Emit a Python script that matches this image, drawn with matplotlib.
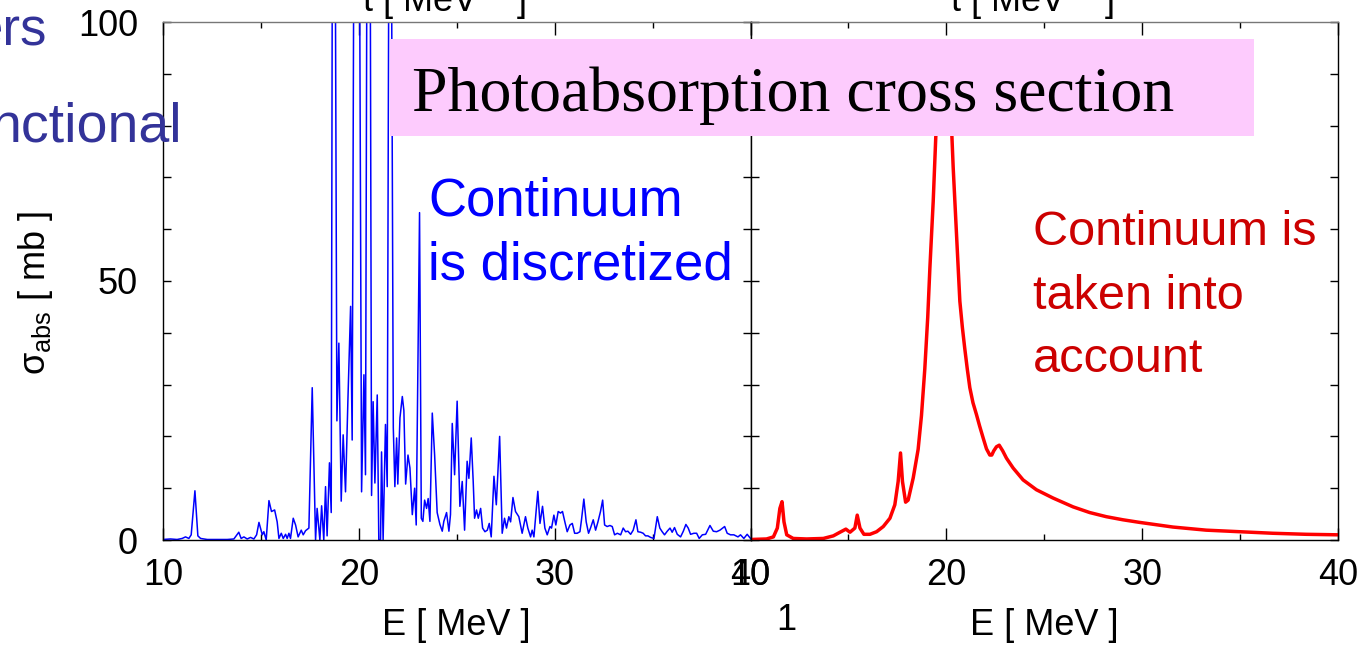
import numpy as np
import matplotlib
matplotlib.use("Agg")
import matplotlib.pyplot as plt
from matplotlib.patches import Rectangle
from matplotlib.ticker import MultipleLocator

plt.rcParams['font.family'] = ['Liberation Sans', 'DejaVu Sans']
plt.rcParams['mathtext.fontset'] = 'custom'
plt.rcParams['mathtext.rm'] = 'Liberation Sans'
plt.rcParams['mathtext.it'] = 'Liberation Sans:italic'

# --- discretized continuum (left panel) ---
E_disc = [10.00, 10.38, 10.72, 10.98, 11.15, 11.32, 11.44, 11.63, 11.78, 11.92,
          12.26, 12.77, 13.28, 13.62, 13.87, 13.99, 14.13, 14.30, 14.47, 14.64,
          14.78, 14.90, 15.07, 15.15, 15.27, 15.41, 15.54, 15.70, 15.83, 15.92,
          16.04, 16.14, 16.26, 16.34, 16.43, 16.51, 16.65, 16.77, 16.90, 17.06,
          17.16, 17.28, 17.45, 17.62, 17.79, 17.87, 18.01, 18.10, 18.21, 18.30,
          18.38, 18.50, 18.59, 18.70, 18.88, 18.98, 19.10, 19.20, 19.32, 19.44,
          19.58, 19.66, 19.88, 20.14, 20.26, 20.34, 20.50, 20.65, 20.73, 20.82,
          20.94, 21.02, 21.11, 21.16, 21.24, 21.36, 21.45, 21.59, 21.76, 21.84,
          21.93, 21.99, 22.10, 22.22, 22.30, 22.39, 22.51, 22.61, 22.73, 22.85,
          22.93, 23.10, 23.19, 23.27, 23.36, 23.46, 23.54, 23.63, 23.75, 23.87,
          24.00, 24.14, 24.26, 24.34, 24.48, 24.60, 24.68, 24.77, 24.89, 25.02,
          25.16, 25.28, 25.40, 25.53, 25.62, 25.74, 25.84, 25.91, 26.01, 26.10,
          26.22, 26.32, 26.44, 26.56, 26.66, 26.76, 26.90, 27.02, 27.19, 27.32,
          27.44, 27.54, 27.66, 27.75, 27.87, 28.00, 28.17, 28.34, 28.51, 28.63,
          28.77, 28.85, 28.94, 29.14, 29.25, 29.38, 29.50, 29.62, 29.76, 29.84,
          29.96, 30.06, 30.18, 30.30, 30.40, 30.52, 30.64, 30.78, 30.90, 31.02,
          31.15, 31.29, 31.37, 31.49, 31.61, 31.73, 31.83, 31.97, 32.09, 32.21,
          32.34, 32.45, 32.55, 32.68, 32.82, 32.94, 33.06, 33.20, 33.37, 33.50,
          33.62, 33.74, 33.88, 34.01, 34.15, 34.25, 34.39, 34.52, 34.64, 34.76,
          34.90, 35.07, 35.24, 35.37, 35.49, 35.61, 35.75, 35.89, 36.00, 36.12,
          36.26, 36.43, 36.57, 36.70, 36.82, 36.94, 37.11, 37.25, 37.38, 37.54,
          37.71, 37.93, 38.10, 38.27, 38.44, 38.68, 38.81, 38.98, 39.15, 39.36,
          39.49, 39.66, 39.83, 40.00]
sig_disc = [0.1, 0.2, 0.1, 0.3, 0.6, 0.3, 1.0, 9.5, 0.8, 0.3,
            0.1, 0.1, 0.1, 0.2, 1.5, 0.3, 0.6, 0.2, 0.5, 0.2,
            1.0, 3.4, 1.0, 1.6, 0.0, 7.6, 5.5, 5.8, 3.5, 0.3,
            1.3, 0.3, 1.1, 0.3, 1.3, 0.3, 4.2, 2.9, 0.6, 1.9,
            1.0, 1.8, 2.3, 29.4, 0.0, 6.1, 0.0, 6.6, 0.0, 10.3,
            0.8, 14.9, 5.3, 220.0, 23.0, 38.0, 7.5, 20.3, 9.3, 26.7,
            45.1, 19.3, 270.0, 9.3, 31.9, 12.6, 240.0, 8.6, 26.7, 11.0,
            28.0, 0.0, 0.0, 17.0, 0.0, 22.3, 10.3, 190.0, 21.7, 10.3,
            19.7, 10.8, 23.6, 27.7, 25.0, 10.8, 16.4, 13.9, 4.9, 10.0,
            2.9, 63.2, 4.2, 3.6, 7.7, 6.1, 8.0, 3.6, 24.5, 16.4,
            5.3, 3.0, 1.7, 3.6, 5.3, 1.7, 4.9, 22.5, 12.6, 26.8,
            6.5, 11.3, 1.9, 15.2, 11.9, 19.7, 11.3, 4.2, 5.8, 4.2,
            6.1, 2.3, 1.6, 1.9, 3.2, 0.6, 12.3, 6.8, 20.0, 1.3,
            4.2, 2.3, 4.5, 3.5, 8.2, 5.5, 4.5, 1.3, 4.5, 2.3,
            0.6, 1.9, 0.6, 9.4, 3.2, 6.5, 2.3, 1.0, 2.6, 2.3,
            4.8, 2.9, 5.5, 5.2, 5.5, 3.5, 1.6, 2.9, 3.2, 1.3,
            1.3, 1.6, 3.9, 7.9, 3.5, 1.3, 2.3, 3.9, 1.9, 3.5,
            5.5, 7.7, 2.9, 2.6, 2.8, 2.6, 1.0, 1.3, 1.0, 2.3,
            1.6, 1.7, 1.1, 1.9, 3.9, 1.6, 1.5, 1.3, 0.8, 0.8,
            0.5, 0.3, 4.5, 2.3, 1.6, 1.0, 1.7, 2.3, 1.5, 2.4,
            1.1, 0.6, 1.7, 3.0, 2.3, 1.1, 1.3, 1.3, 0.3, 1.0,
            1.1, 2.8, 1.7, 1.6, 1.9, 2.6, 1.3, 1.0, 1.0, 0.6,
            1.0, 0.3, 1.1, 0.3]

# --- continuum taken into account (right panel) ---
E_cont = [10.00, 10.82, 11.17, 11.37, 11.50, 11.61, 11.71, 11.85, 12.18, 12.86,
          13.72, 14.23, 14.57, 14.87, 15.08, 15.33, 15.45, 15.59, 15.79, 16.10,
          16.44, 16.78, 17.12, 17.37, 17.54, 17.66, 17.76, 17.92, 18.05, 18.31,
          18.56, 18.73, 18.90, 19.05, 19.16, 19.33, 19.46, 19.58, 19.75, 19.90,
          20.05, 20.21, 20.35, 20.52, 20.69, 20.82, 20.94, 21.07, 21.20, 21.36,
          21.54, 21.70, 21.88, 22.05, 22.22, 22.32, 22.42, 22.56, 22.70, 22.88,
          23.07, 23.41, 23.92, 24.60, 25.45, 26.47, 27.32, 28.17, 29.02, 29.87,
          31.57, 33.27, 34.97, 36.67, 38.38, 40.00]
sig_cont = [0.1, 0.2, 0.6, 2.3, 6.1, 7.4, 3.5, 1.0, 0.3, 0.2,
            0.3, 0.8, 1.5, 2.1, 1.5, 2.3, 4.8, 2.3, 1.1, 1.1,
            1.6, 2.6, 4.2, 6.8, 11.3, 16.8, 11.3, 7.3, 7.7, 12.0,
            17.5, 24.0, 33.0, 43.0, 52.5, 65.4, 77.7, 84.8, 92.0, 95.0,
            92.0, 84.8, 71.9, 59.0, 46.1, 41.0, 37.0, 33.0, 29.4, 26.5,
            24.2, 22.0, 19.7, 17.6, 16.4, 16.4, 17.2, 18.0, 18.3, 17.2,
            15.8, 13.9, 11.6, 9.7, 8.1, 6.4, 5.3, 4.5, 3.9, 3.4,
            2.5, 1.9, 1.6, 1.3, 1.1, 1.0]

x_ticks = [10, 20, 30, 40]
y_ticks = [0, 50, 100]

W, H = 1372, 651
fig = plt.figure(figsize=(W / 100, H / 100), dpi=100)


def px(x, y):
    # pixel position -> figure fraction
    return x / W, 1 - y / H


ax_l = fig.add_axes([163 / W, 111 / H, 587.5 / W, 518 / H])
ax_r = fig.add_axes([750.5 / W, 111 / H, 587.5 / W, 518 / H])

ax_l.plot(E_disc, sig_disc, color='#0000ff', lw=1.1)
ax_r.plot(E_cont, sig_cont, color='#ff0000', lw=2.5)

for ax in (ax_l, ax_r):
    ax.set_xlim(10, 40)
    ax.set_ylim(0, 100)
    ax.set_xticks(x_ticks)
    ax.xaxis.set_minor_locator(MultipleLocator(5))
    ax.set_yticks(y_ticks)
    ax.yaxis.set_minor_locator(MultipleLocator(10))
    ax.tick_params(which='both', direction='in', top=True, right=True,
                   labelsize=26, width=1.0)
    ax.tick_params(axis='x', which='major', length=9, pad=13)
    ax.tick_params(axis='x', which='minor', length=4.5)
    ax.tick_params(axis='y', which='both', length=5.5, pad=18)
    for s in ax.spines.values():
        s.set_linewidth(1.0)
    ax.spines['top'].set_color('#777777')
    ax.set_xlabel('E [ MeV ]', fontsize=26)
    ax.xaxis.set_label_coords(0.5, -0.131)

ax_r.tick_params(axis='y', labelleft=False)
ax_l.set_ylabel(r'$\mathrm{\sigma_{abs}}$ [ mb ]', fontsize=26)
ax_l.yaxis.set_label_coords(-0.183, 0.477)

# headings cut off at the top edge
for cx in (444, 1032):
    fig.text(*px(cx, 12), 't [ MeV$^{-1}$ ]', fontsize=26, ha='center',
             va='baseline')

# side notes running off the left edge
fig.text(*px(47, 45), 'ers', fontsize=38, color='#333399', ha='right',
         va='baseline')
fig.text(*px(182, 142), 'nctional', fontsize=40, color='#333399', ha='right',
         va='baseline')

# title banner
box = Rectangle(px(390, 136), (1254 - 390) / W, (136 - 39) / H,
                transform=fig.transFigure, facecolor='#fdcbfd',
                edgecolor='none', zorder=5)
fig.add_artist(box)
fig.text(*px(412, 111), 'Photoabsorption cross section', fontsize=46,
         family='Liberation Serif', ha='left', va='baseline', zorder=6)

# annotations
fig.text(*px(428, 216), 'Continuum', fontsize=38, color='#0000ff',
         ha='left', va='baseline')
fig.text(*px(428, 279), 'is discretized', fontsize=38, color='#0000ff',
         ha='left', va='baseline')
for line, yb in zip(['Continuum is', 'taken into', 'account'], [245, 309, 372]):
    fig.text(*px(1033, yb), line, fontsize=35, color='#cc0000',
             ha='left', va='baseline')

fig.text(*px(786, 621), '1', fontsize=26, ha='center', va='center')

fig.savefig('out.png', dpi=100)
